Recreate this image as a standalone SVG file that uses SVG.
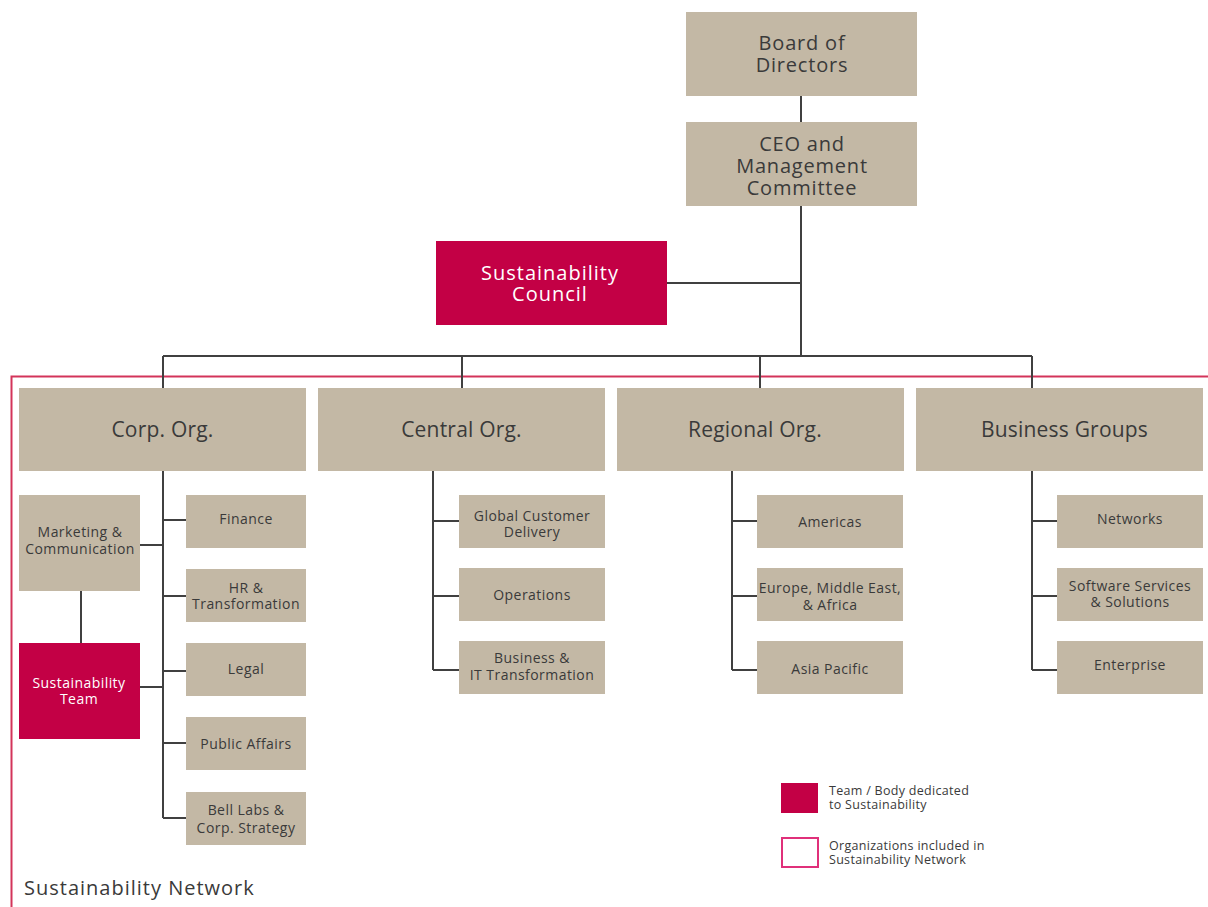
<svg xmlns="http://www.w3.org/2000/svg" width="1208" height="907" viewBox="0 0 1208 907">
<style>
.b{fill:#c3b8a5}
.r{fill:#c30045}
.t{font-family:"Open Sans","DejaVu Sans",sans-serif;fill:#3a3a3a;text-anchor:middle}
.w{fill:#ffffff}
.L{font-size:20px;letter-spacing:0.8px}
.M{font-size:21px;letter-spacing:0.2px}
.S{font-size:14px;letter-spacing:0.45px}
.c{stroke:#404040;stroke-width:2;fill:none}
.g{font-family:"Open Sans","DejaVu Sans",sans-serif;font-size:12.5px;fill:#3a3a3a;letter-spacing:0.3px}
</style>
<rect width="1208" height="907" fill="#ffffff"/>
<path d="M1210,376.5 H11.5 V910" fill="none" stroke="#d3345a" stroke-width="2"/>
<g id="connectors" class="c">
<path d="M801,96 V122 M801,206 V356 M667,283 H801 M163,356 H1032 M163,356 V388 M462,356 V388 M760,356 V388 M1032,356 V388"/>
<path d="M163,471 V818 M163,520 H186 M163,596 H186 M163,671 H186 M163,743 H186 M163,818 H186 M140,545 H163 M140,687 H163 M81,591 V643"/>
<path d="M433,471 V670 M433,521 H459 M433,596 H459 M433,670 H459"/>
<path d="M732,471 V670 M732,521 H757 M732,596 H757 M732,670 H757"/>
<path d="M1032,471 V670 M1032,521 H1057 M1032,596 H1057 M1032,670 H1057"/>
</g>
<g id="board"><rect class="b" x="686" y="12" width="231" height="84"/><text class="t L" x="802" y="50">Board of</text><text class="t L" x="802" y="72">Directors</text></g>
<g id="ceo"><rect class="b" x="686" y="122" width="231" height="84"/><text class="t L" x="802" y="151">CEO and</text><text class="t L" x="802" y="173">Management</text><text class="t L" x="802" y="195">Committee</text></g>
<g id="council"><rect class="r" x="436" y="241" width="231" height="84"/><text class="t L w" x="550" y="280" style="letter-spacing:1px">Sustainability</text><text class="t L w" x="550" y="301" style="letter-spacing:1px">Council</text></g>
<g id="corp"><rect class="b" x="19" y="388" width="287" height="83"/><text class="t M" x="162.5" y="437">Corp. Org.</text></g>
<g id="central"><rect class="b" x="318" y="388" width="287" height="83"/><text class="t M" x="461.5" y="437">Central Org.</text></g>
<g id="regional"><rect class="b" x="617" y="388" width="287" height="83"/><text class="t M" x="755" y="437">Regional Org.</text></g>
<g id="business"><rect class="b" x="916" y="388" width="287" height="83"/><text class="t M" x="1064.5" y="437">Business Groups</text></g>
<g id="marketing"><rect class="b" x="19" y="495" width="121" height="96"/><text class="t S" x="80" y="537">Marketing &amp;</text><text class="t S" x="80" y="554">Communication</text></g>
<g id="team"><rect class="r" x="19" y="643" width="121" height="96"/><text class="t S w" x="79" y="688">Sustainability</text><text class="t S w" x="79" y="704">Team</text></g>
<g id="finance"><rect class="b" x="186" y="495" width="120" height="53"/><text class="t S" x="246" y="524">Finance</text></g>
<g id="hr"><rect class="b" x="186" y="569" width="120" height="53"/><text class="t S" x="246" y="593">HR &amp;</text><text class="t S" x="246" y="609">Transformation</text></g>
<g id="legal"><rect class="b" x="186" y="643" width="120" height="53"/><text class="t S" x="246" y="674">Legal</text></g>
<g id="public"><rect class="b" x="186" y="717" width="120" height="53"/><text class="t S" x="246" y="749">Public Affairs</text></g>
<g id="belllabs"><rect class="b" x="186" y="792" width="120" height="53"/><text class="t S" x="246" y="815">Bell Labs &amp;</text><text class="t S" x="246" y="833">Corp. Strategy</text></g>
<g id="gcd"><rect class="b" x="459" y="495" width="146" height="53"/><text class="t S" x="532" y="521">Global Customer</text><text class="t S" x="532" y="537">Delivery</text></g>
<g id="operations"><rect class="b" x="459" y="568" width="146" height="53"/><text class="t S" x="532" y="600">Operations</text></g>
<g id="bit"><rect class="b" x="459" y="641" width="146" height="53"/><text class="t S" x="532" y="663">Business &amp;</text><text class="t S" x="532" y="680">IT Transformation</text></g>
<g id="americas"><rect class="b" x="757" y="495" width="146" height="53"/><text class="t S" x="830" y="527">Americas</text></g>
<g id="emea"><rect class="b" x="757" y="568" width="146" height="53"/><text class="t S" x="830" y="593">Europe, Middle East,</text><text class="t S" x="830" y="610">&amp; Africa</text></g>
<g id="apac"><rect class="b" x="757" y="641" width="146" height="53"/><text class="t S" x="830" y="674">Asia Pacific</text></g>
<g id="networks"><rect class="b" x="1057" y="495" width="146" height="53"/><text class="t S" x="1130" y="524">Networks</text></g>
<g id="software"><rect class="b" x="1057" y="568" width="146" height="53"/><text class="t S" x="1130" y="591">Software Services</text><text class="t S" x="1130" y="607">&amp; Solutions</text></g>
<g id="enterprise"><rect class="b" x="1057" y="641" width="146" height="53"/><text class="t S" x="1130" y="670">Enterprise</text></g>
<g id="legend">
<rect class="r" x="781" y="783" width="37" height="30"/>
<rect x="782" y="838" width="36" height="29" fill="#ffffff" stroke="#e0307a" stroke-width="2"/>
<text class="g" x="829" y="795">Team / Body dedicated</text><text class="g" x="829" y="809">to Sustainability</text>
<text class="g" x="829" y="850">Organizations included in</text><text class="g" x="829" y="864">Sustainability Network</text>
</g>
<text x="24" y="895" font-family="'Open Sans','DejaVu Sans',sans-serif" font-size="20" fill="#3a3a3a" letter-spacing="1">Sustainability Network</text>
</svg>
